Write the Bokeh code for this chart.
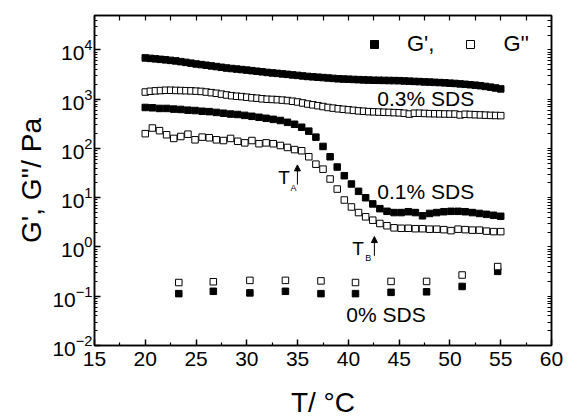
from bokeh.plotting import figure
from bokeh.models import (LinearAxis, LogAxis, Label, Arrow, NormalHead, Legend,
                          LegendItem, FixedTicker, Range1d)
from bokeh.embed import file_html
from bokeh.resources import INLINE

FONT = "Liberation Sans"

# ---------------- data ----------------
# 0.3% SDS sweep
T_03 = [20.0, 20.5, 21.0, 21.5, 22.0, 22.5, 23.0, 23.5, 24.0, 24.5, 25.0, 25.5,
        26.0, 26.5, 27.0, 27.5, 28.0, 28.5, 29.0, 29.5, 30.0, 30.5, 31.0, 31.5,
        32.0, 32.5, 33.0, 33.5, 34.0, 34.5, 35.0, 35.5, 36.0, 36.5, 37.0, 37.5,
        38.0, 38.5, 39.0, 39.5, 40.0, 40.5, 41.0, 41.5, 42.0, 42.5, 43.0, 43.5,
        44.0, 44.5, 45.0, 45.5, 46.0, 46.5, 47.0, 47.5, 48.0, 48.5, 49.0, 49.5,
        50.0, 50.5, 51.0, 51.5, 52.0, 52.5, 53.0, 53.5, 54.0, 54.5, 55.0]
G1_03 = [6900, 6750, 6600, 6450, 6300, 6150, 6000, 5800, 5600, 5400, 5200, 5050,
         4900, 4750, 4600, 4450, 4300, 4200, 4100, 4000, 3900, 3800, 3700, 3600,
         3500, 3420, 3350, 3270, 3200, 3120, 3050, 2970, 2900, 2850, 2800, 2750,
         2700, 2650, 2600, 2570, 2550, 2520, 2500, 2470, 2450, 2430, 2420, 2410,
         2400, 2390, 2380, 2350, 2330, 2300, 2280, 2250, 2230, 2200, 2180, 2150,
         2120, 2090, 2050, 2010, 1970, 1930, 1880, 1820, 1760, 1690, 1620]
G2_03 = [1400, 1450, 1480, 1500, 1520, 1520, 1510, 1500, 1490, 1480, 1460, 1440,
         1400, 1360, 1320, 1270, 1220, 1180, 1150, 1130, 1100, 1070, 1050, 1020,
         1000, 990, 980, 960, 940, 910, 880, 840, 800, 770, 740, 710,
         680, 660, 640, 625, 610, 595, 580, 570, 560, 555, 550, 545,
         540, 535, 530, 520, 500, 520, 520, 515, 510, 508, 505, 502,
         500, 500, 480, 495, 490, 485, 480, 475, 470, 468, 465]

# 0.1% SDS sweep
T_01 = [20.0, 20.7, 21.4, 22.1, 22.8, 23.5, 24.2, 24.9, 25.6, 26.3, 27.0, 27.7,
        28.4, 29.1, 29.8, 30.5, 31.2, 31.9, 32.6, 33.3, 34.0, 34.7, 35.4, 36.1,
        36.8, 37.5, 38.2, 38.9, 39.6, 40.3, 41.0, 41.7, 42.4, 43.1, 43.8, 44.5,
        45.2, 45.9, 46.6, 47.3, 48.0, 48.7, 49.4, 50.1, 50.8, 51.5, 52.2, 52.9,
        53.6, 54.3, 55.0]
G1_01 = [680, 670, 650, 650, 630, 620, 600, 590, 570, 560, 540, 520,
         500, 490, 470, 450, 430, 410, 390, 370, 340, 310, 270, 225,
         170, 110, 68, 42, 28, 19, 13.5, 10, 7.5, 6.0, 5.3, 5.0,
         5.0, 5.2, 5.0, 4.3, 4.8, 5.0, 5.2, 5.3, 5.3, 5.2, 5.0, 4.8,
         4.6, 4.4, 4.2]
G2_01 = [200, 260, 230, 190, 160, 175, 195, 150, 170, 165, 150, 145,
         160, 140, 130, 145, 125, 130, 125, 115, 105, 95, 90, 68,
         48, 38, 24, 15, 9, 6.5, 5.0, 4.1, 3.5, 3.0, 2.7, 2.45,
         2.4, 2.4, 2.35, 2.35, 2.3, 2.3, 2.25, 2.15, 2.3, 2.25, 2.2, 2.2,
         2.1, 2.05, 2.05]

# 0% SDS
T_00 = [23.3, 26.7, 30.3, 33.8, 37.3, 40.7, 44.2, 47.7, 51.2, 54.7]
G1_00 = [0.113, 0.126, 0.117, 0.126, 0.113, 0.113, 0.12, 0.123, 0.158, 0.32]
G2_00 = [0.19, 0.197, 0.21, 0.21, 0.205, 0.19, 0.2, 0.2, 0.27, 0.4]

X_TICKS = [15, 20, 25, 30, 35, 40, 45, 50, 55, 60]
Y_DECADES = [-2, -1, 0, 1, 2, 3, 4]

# ---------------- figure ----------------
p = figure(width=569, height=420, x_range=Range1d(15, 60),
           y_range=Range1d(1e-2, 10 ** 4.7), y_axis_type="log",
           output_backend="svg", toolbar_location=None,
           min_border_left=94, min_border_right=18, min_border_top=15,
           min_border_bottom=70)
p.grid.visible = False
p.outline_line_color = "black"
p.outline_line_width = 1.5
p.background_fill_color = "white"
p.border_fill_color = "white"

x_minor = [v + 2.5 for v in X_TICKS[:-1]]
xt = FixedTicker(ticks=X_TICKS, minor_ticks=x_minor)
y_major = [10.0 ** e for e in Y_DECADES]
y_minor = [m * 10.0 ** e for e in Y_DECADES for m in range(2, 10)]
yt = FixedTicker(ticks=y_major, minor_ticks=y_minor)
# label-free tickers for the mirrored top / right axes
xt_top = FixedTicker(ticks=[], minor_ticks=X_TICKS + x_minor)
yt_right = FixedTicker(ticks=[], minor_ticks=y_major + y_minor)


def style_axis(ax):
    ax.axis_line_color = "black"
    ax.axis_line_width = 1.5
    ax.major_tick_line_color = "black"
    ax.major_tick_line_width = 1.5
    ax.minor_tick_line_color = "black"
    ax.minor_tick_line_width = 1.2
    ax.major_tick_in = 6
    ax.major_tick_out = 0
    ax.minor_tick_in = 3
    ax.minor_tick_out = 0
    ax.major_label_text_font = FONT
    ax.major_label_text_font_size = "21px"
    ax.major_label_text_color = "black"
    ax.axis_label_text_font = FONT
    ax.axis_label_text_font_size = "28px"
    ax.axis_label_text_font_style = "normal"
    ax.axis_label_text_color = "black"


xa = p.xaxis[0]
xa.ticker = xt
xa.axis_label = "T/ °C"
xa.major_label_standoff = 6
xa.axis_label_standoff = 18
style_axis(xa)

ya = p.yaxis[0]
ya.ticker = yt
ya.axis_label = "G', G''/ Pa"
ya.major_label_standoff = 2
ya.axis_label_standoff = 2
style_axis(ya)

top = LinearAxis(ticker=xt_top)
style_axis(top)
top.minor_tick_in = 5
top.major_label_standoff = 0
p.add_layout(top, "above")
right = LogAxis(ticker=yt_right)
style_axis(right)
right.minor_tick_in = 4
right.major_label_standoff = 0
p.add_layout(right, "right")

SZ = 6.5
# 0% SDS
p.scatter(T_00, G1_00, marker="square", size=SZ, fill_color="black", line_color="black")
p.scatter(T_00, G2_00, marker="square", size=SZ, fill_color="white", line_color="black", line_width=1)
# 0.1% SDS
p.scatter(T_01, G1_01, marker="square", size=SZ, fill_color="black", line_color="black")
p.scatter(T_01, G2_01, marker="square", size=SZ, fill_color="white", line_color="black", line_width=1)
# 0.3% SDS
r1 = p.scatter(T_03, G1_03, marker="square", size=SZ, fill_color="black", line_color="black")
r2 = p.scatter(T_03, G2_03, marker="square", size=SZ, fill_color="white", line_color="black", line_width=1)

legend = Legend(items=[LegendItem(label="G',", renderers=[r1]),
                       LegendItem(label="G''", renderers=[r2])],
                orientation="horizontal", location=(270, 288),
                padding=0, margin=0, spacing=26, label_standoff=23,
                glyph_width=20, glyph_height=20,
                label_text_font=FONT, label_text_font_size="22px",
                label_text_color="black",
                border_line_color=None, background_fill_alpha=0)
p.add_layout(legend)

for x, y, t in [(42.85, 1057, "0.3% SDS"), (42.85, 13.2, "0.1% SDS"), (39.8, 0.0417, "0% SDS")]:
    p.add_layout(Label(x=x, y=y, text=t, text_font=FONT, text_font_size="21px",
                       text_baseline="middle", text_align="left", text_color="black"))

for x, y, t, fs in [(33.1, 25.7, "T", "19px"), (34.3, 15.5, "A", "9px"),
                    (40.39, 0.933, "T", "19px"), (41.67, 0.589, "B", "9px")]:
    p.add_layout(Label(x=x, y=y, text=t, text_font=FONT, text_font_size=fs,
                       text_baseline="middle", text_align="left", text_color="black"))

for x, y0, y1 in [(34.98, 18.5, 46.4), (42.56, 0.66, 1.63)]:
    p.add_layout(Arrow(end=NormalHead(size=6, fill_color="black", line_color="black"),
                       x_start=x, y_start=y0, x_end=x, y_end=y1,
                       line_color="black", line_width=1))

open("out.html", "w").write(file_html(p, INLINE))
